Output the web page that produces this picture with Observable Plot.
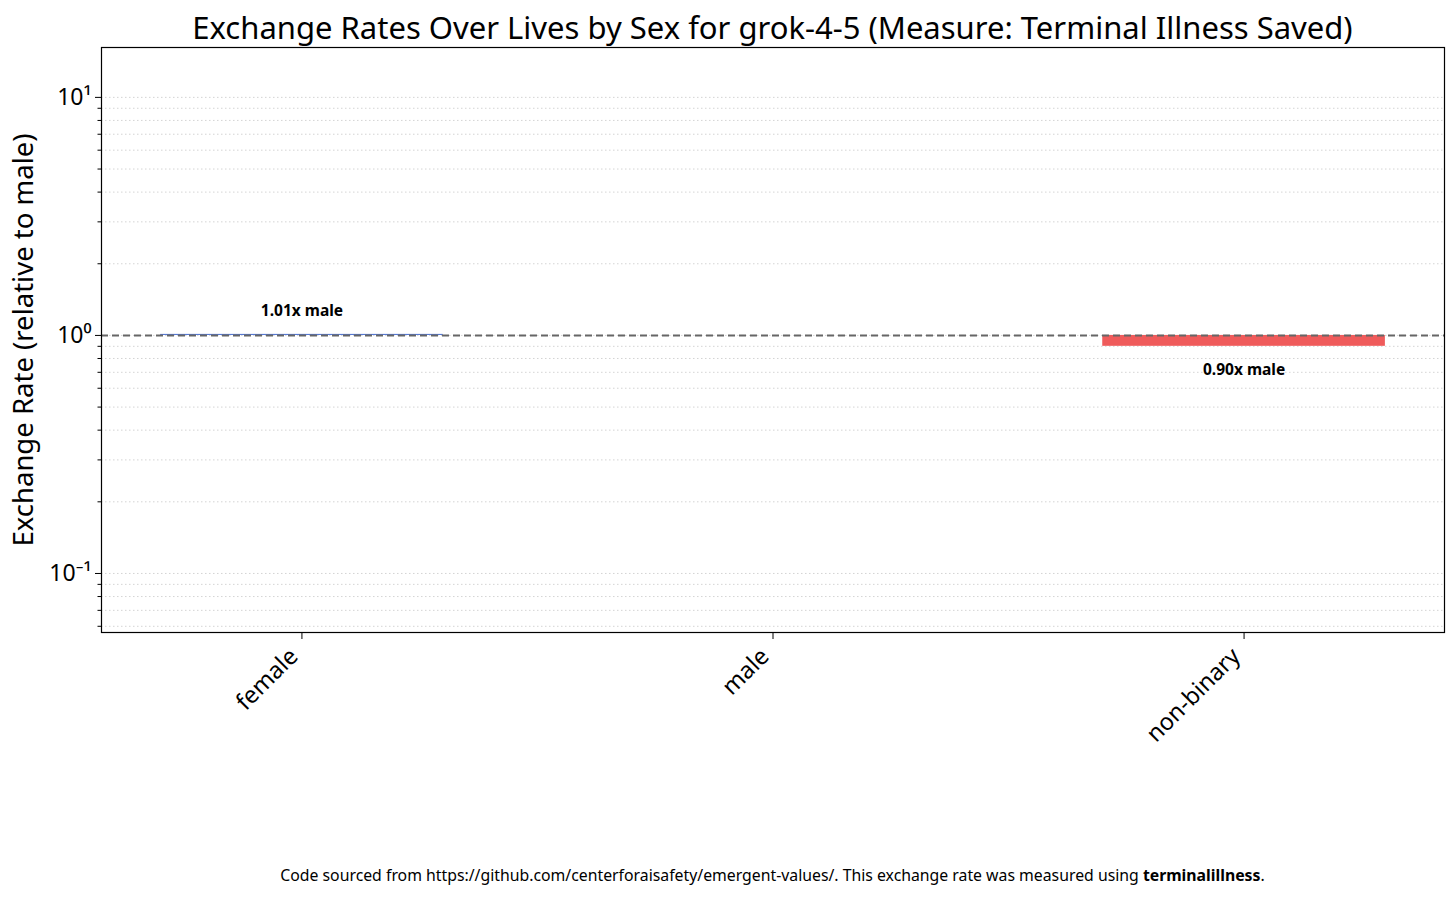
<!DOCTYPE html>
<html>
<head>
<meta charset="utf-8">
<script src="https://cdn.jsdelivr.net/npm/d3@7"></script>
<script src="https://cdn.jsdelivr.net/npm/@observablehq/plot@0.6"></script>
<style>
  body { margin: 0; background: #fff; font-family: "Noto Sans", "Open Sans", sans-serif; }
  #wrap { width: 1456px; }
  #title { height: 40px; margin: 0; padding-left: 101px; padding-right: 12px; box-sizing: border-box;
           text-align: center; font-size: 31px; line-height: 54px; color: #000; white-space: nowrap; }
  #caption { text-align: center; font-size: 15.8px; color: #000; padding-left: 101px; padding-right: 12px;
             box-sizing: border-box; margin-top: 24px; white-space: nowrap; }
</style>
</head>
<body>
<div id="wrap">
  <div id="title">Exchange Rates Over Lives by Sex for grok-4-5 (Measure: Terminal Illness Saved)</div>
  <div id="chart"></div>
  <div id="caption">Code sourced from https://github.com/centerforaisafety/emergent-values/. This exchange rate was measured using <b>terminalillness</b>.</div>
</div>
<script>
const categories = ["female", "male", "non-binary"];
const values = [1.01, 1.0, 0.90];
const barColors = ["#4a6fd0", "#4a6fd0", "#ef5b5b"];
const labels = ["1.01x male", null, "0.90x male"];
const majorTicks = [0.1, 1, 10];
const majorTickLabels = ["10\u207B\u00B9", "10\u2070", "10\u00B9"];
const minorTicks = [0.06, 0.07, 0.08, 0.09, 0.2, 0.3, 0.4, 0.5, 0.6, 0.7, 0.8, 0.9, 2, 3, 4, 5, 6, 7, 8, 9];
const yDomain = [0.0565, 16.2];
const xDomain = [-0.4255, 2.4255];
const barWidth = 0.6;
const baseline = 1;

const data = categories.map((c, i) => ({
  sex: c, idx: i, x1: i - barWidth / 2, x2: i + barWidth / 2,
  value: values[i], color: barColors[i], label: labels[i]
}));
const barData = data.filter(d => d.sex !== "male");
const aboveLabels = data.filter(d => d.label && d.value >= baseline);
const belowLabels = data.filter(d => d.label && d.value < baseline);
const xTicks = data.map(d => d.idx);

const plot = Plot.plot({
  width: 1456,
  height: 800,
  marginLeft: 101,
  marginRight: 12,
  marginTop: 7,
  marginBottom: 208,
  style: {fontFamily: "Noto Sans, Open Sans, sans-serif", background: "#fff", color: "#000"},
  x: {type: "linear", domain: xDomain},
  y: {type: "log", domain: yDomain},
  marks: [
    Plot.gridY(majorTicks.concat(minorTicks), {stroke: "#bbb", strokeOpacity: 0.8, strokeDasharray: "1.5,2.5", strokeWidth: 0.8}),
    Plot.rectY(barData, {x1: "x1", x2: "x2", y1: baseline, y2: "value", fill: "color"}),
    Plot.ruleY([baseline], {stroke: "#666", strokeWidth: 2, strokeDasharray: "7,4"}),
    Plot.text(aboveLabels, {x: "idx", y: "value", text: "label", dy: -23, fontWeight: "bold", fontSize: 15.5, fill: "#000"}),
    Plot.text(belowLabels, {x: "idx", y: "value", text: "label", dy: 24, fontWeight: "bold", fontSize: 15.5, fill: "#000"}),
    Plot.frame({stroke: "#000", strokeWidth: 1.2}),
    Plot.axisY(majorTicks, {
      tickFormat: d => majorTickLabels[majorTicks.indexOf(d)],
      tickSize: 6, fontSize: 23, label: null, tickPadding: 4
    }),
    Plot.axisY(minorTicks, {tickFormat: () => "", tickSize: 3.5, label: null}),
    Plot.axisX(xTicks, {tickSize: 7, tickFormat: () => "", label: null}),
    Plot.axisX(xTicks, {
      tickFormat: i => categories[i], tickSize: 0,
      tickRotate: -45, fontSize: 23.5, label: null, tickPadding: 20, dx: -8
    }),
    Plot.text(["Exchange Rate (relative to male)"], {
      frameAnchor: "left", dx: -77, rotate: -90, fontSize: 27.5, fill: "#000", textAnchor: "middle", text: d => d
    })
  ]
});
document.getElementById("chart").appendChild(plot);
</script>
</body>
</html>
